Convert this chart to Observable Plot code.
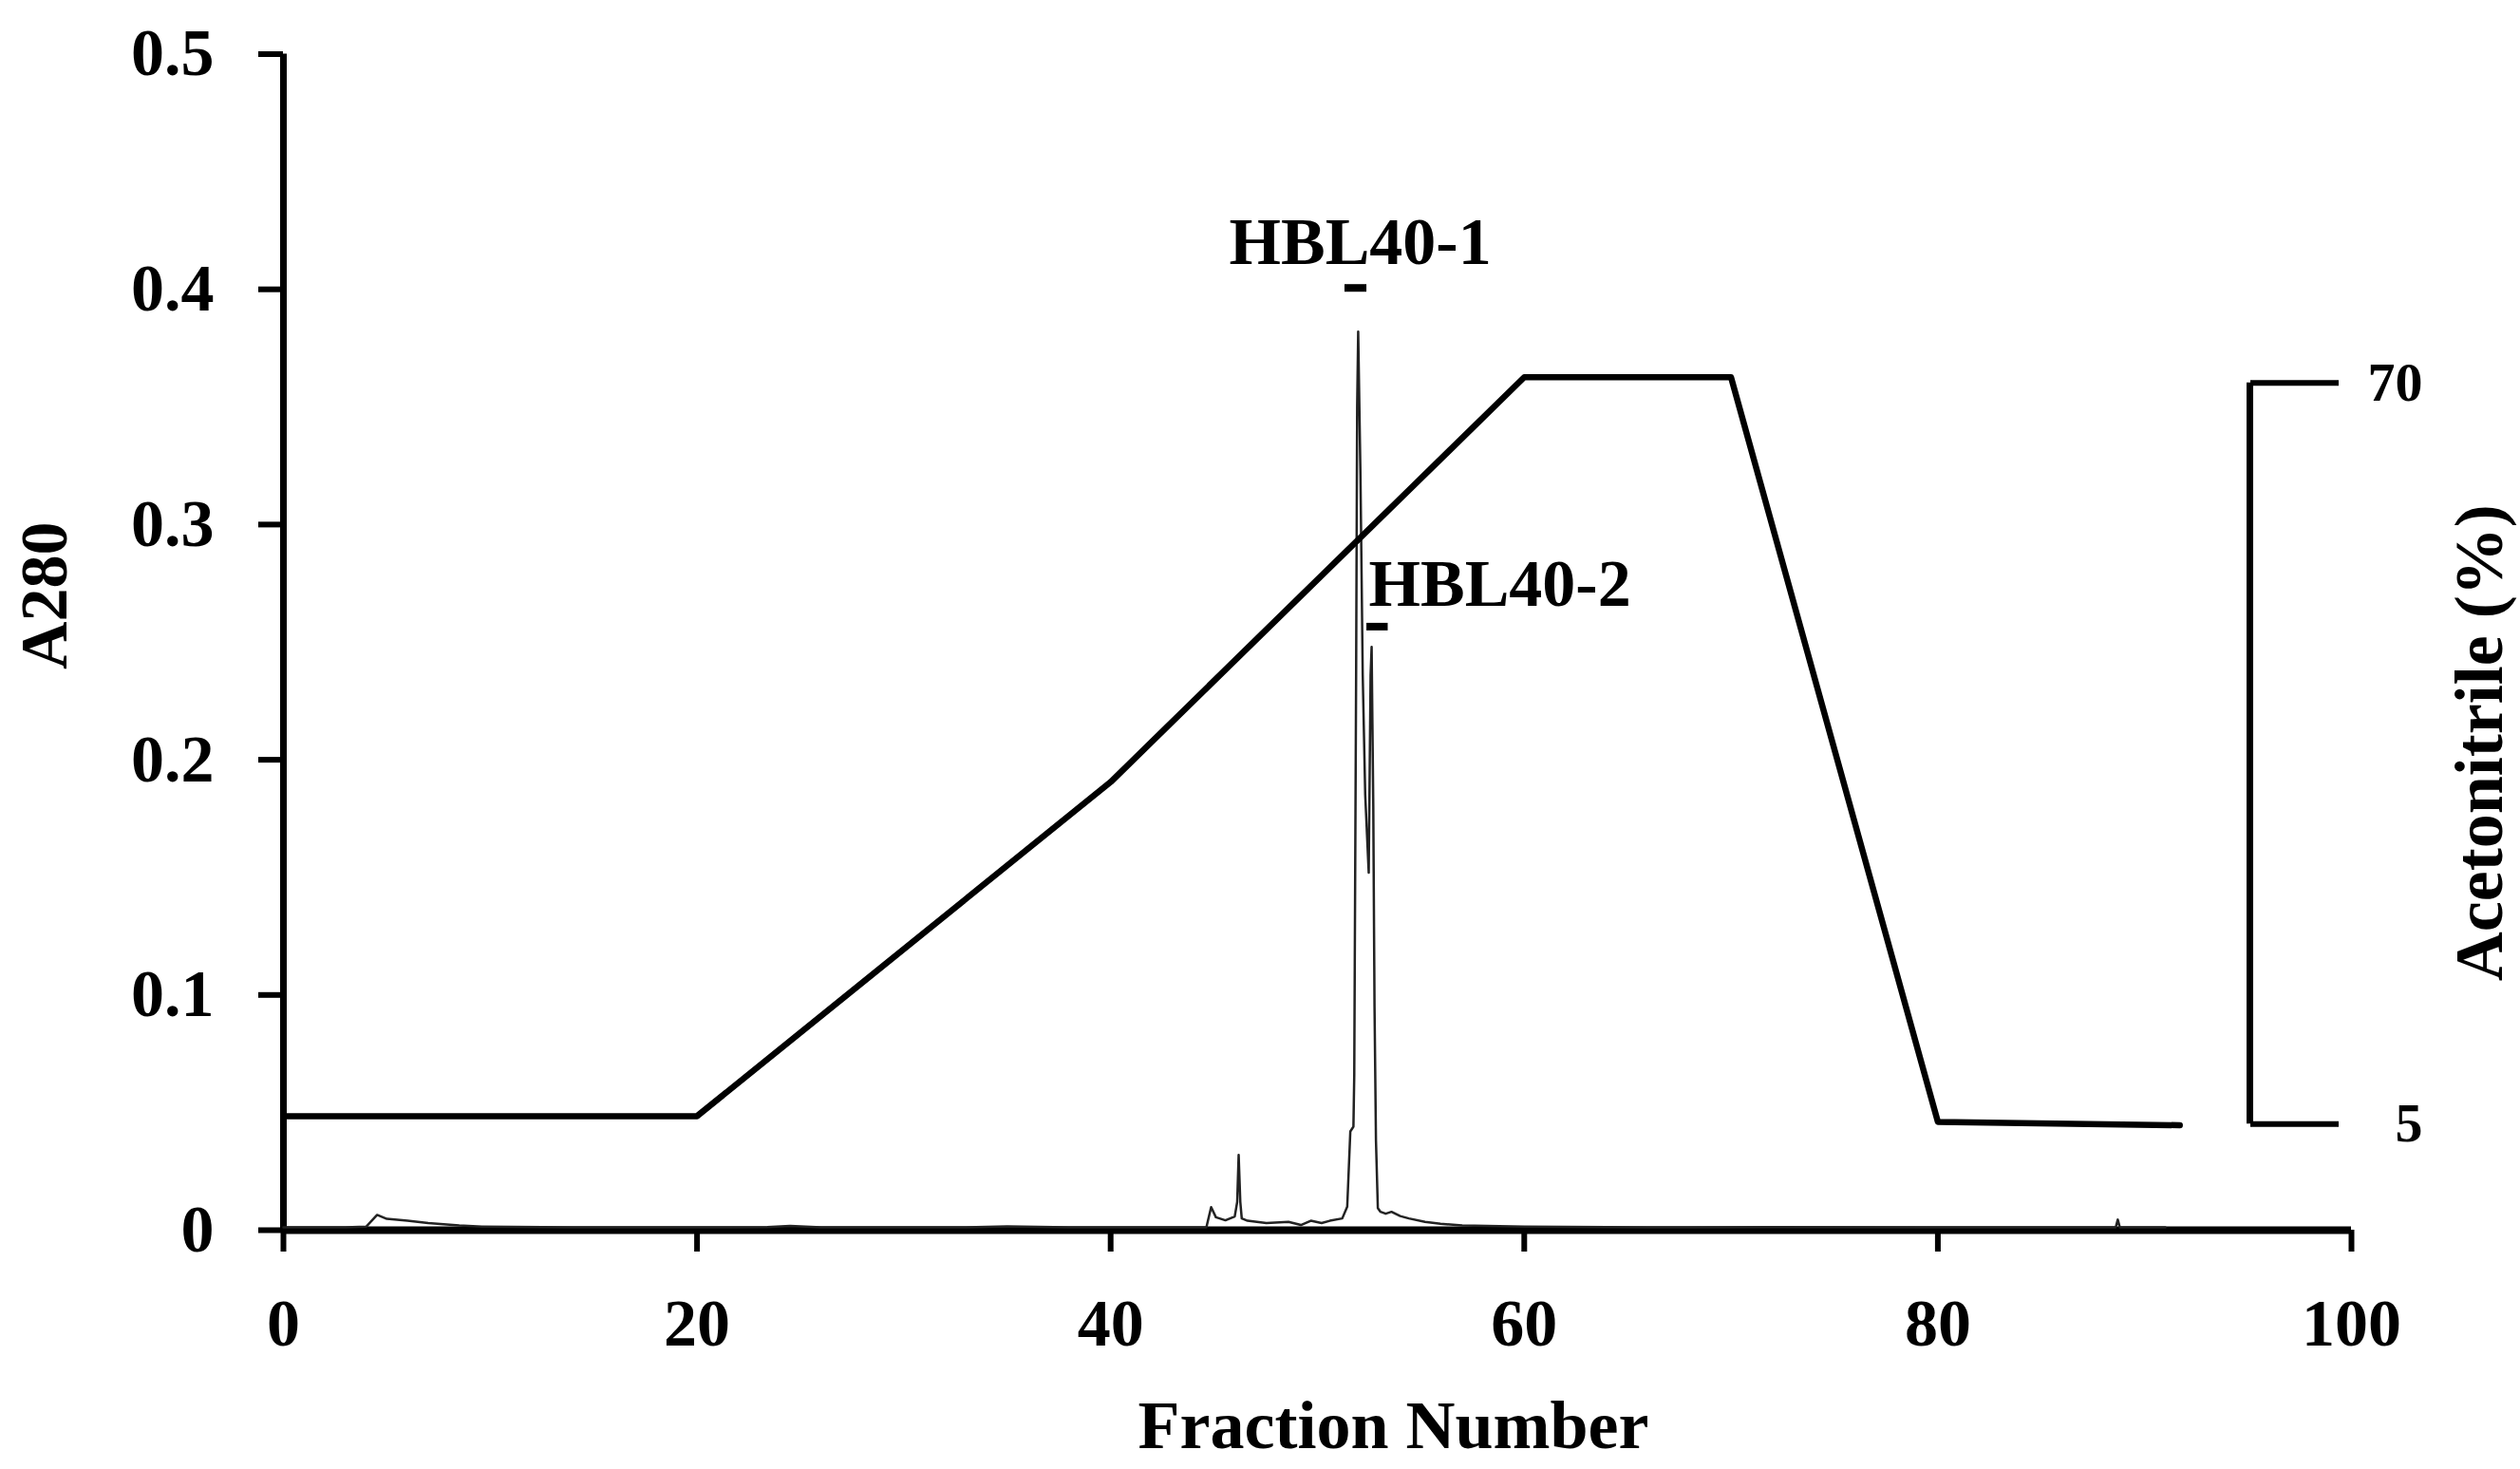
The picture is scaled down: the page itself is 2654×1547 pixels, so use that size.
<!DOCTYPE html>
<html><head><meta charset="utf-8">
<script src="https://cdn.jsdelivr.net/npm/d3@7"></script>
<script src="https://cdn.jsdelivr.net/npm/@observablehq/plot@0.6"></script>
<style>html,body{margin:0;padding:0;background:#fff;} svg{display:block}</style>
</head><body><div id="chart"></div>
<script>
// Chromatogram (A280 vs fraction number)
const fraction = [0, 3, 4.0, 4.53, 5.0, 6.0, 7.0, 8.5, 9.6, 14, 20, 23.4, 24.5, 26, 33, 35, 38, 44.2, 44.63, 44.86,
  45.09, 45.55, 46.0, 46.12, 46.19, 46.27, 46.34, 46.62, 47.53, 48.6, 49.2, 49.68, 50.2, 50.6, 51.2, 51.44, 51.59, 51.74,
  51.78, 51.87, 51.92, 51.97, 52.08, 52.19, 52.31, 52.48, 52.57, 52.62, 52.7, 52.76, 52.83, 52.92, 53.05, 53.3, 53.58,
  54.0, 54.42, 55.2, 55.95, 57.0, 60, 66, 72, 80, 86, 88.6, 88.7, 88.8, 91];
const a280 = [0.0012, 0.0012, 0.0015, 0.0065, 0.0048, 0.004, 0.003, 0.002, 0.0015, 0.0012, 0.0012, 0.0013, 0.0018, 0.0012, 0.0012, 0.0016, 0.0012, 0.0012, 0.0012, 0.0098,
  0.0055, 0.0042, 0.0058, 0.012, 0.032, 0.012, 0.005, 0.004, 0.003, 0.0035, 0.0022, 0.004, 0.003, 0.004, 0.005, 0.010, 0.042, 0.044,
  0.066, 0.236, 0.35, 0.382, 0.321, 0.236, 0.185, 0.152, 0.236, 0.248, 0.18, 0.095, 0.038, 0.0094, 0.0078, 0.007, 0.0078,
  0.006, 0.005, 0.0035, 0.0027, 0.002, 0.0015, 0.0012, 0.0013, 0.0012, 0.0012, 0.0012, 0.0045, 0.0012, 0.0012];

// Acetonitrile gradient (%)
const gradientFraction = [0, 20, 40, 60, 70, 80, 91.7];
const gradientPct = [5.7, 5.7, 35, 70.5, 70.5, 5.2, 4.9];

// Axes
const xTicks = [0, 20, 40, 60, 80, 100];
const yTicks = [0, 0.1, 0.2, 0.3, 0.4, 0.5];
const pctTicks = [5, 70];
const pctAxisA = [0.0451, 0.3602]; // A280 heights at which 5 % and 70 % sit on the right bracket

// Peak annotations
const peakNames = ["HBL40-1", "HBL40-2"];
const peakLabelX = [52.07, 52.48];
const peakLabelA = [0.4108, 0.2654];
const peakBarX1 = [51.33, 52.39];
const peakBarX2 = [52.39, 53.42];
const peakBarA = [0.4006, 0.2566];

const toA = p => pctAxisA[0] + (p - pctTicks[0]) * (pctAxisA[1] - pctAxisA[0]) / (pctTicks[1] - pctTicks[0]);

const trace = fraction.map((f, i) => ({f, a: a280[i]}));
const gradient = gradientFraction.map((f, i) => ({f, a: toA(gradientPct[i])}));
const labels = peakNames.map((name, i) => ({name, x: peakLabelX[i], a: peakLabelA[i], x1: peakBarX1[i], x2: peakBarX2[i], ab: peakBarA[i]}));

const FONT = '"Liberation Serif", "Times New Roman", serif';
const T = {fontWeight: "bold", fontFamily: FONT, fill: "#000"};

const chart = Plot.plot({
  width: 2654,
  height: 1547,
  marginLeft: 298,
  marginRight: 178,
  marginTop: 56.5,
  marginBottom: 252,
  style: {fontFamily: FONT, fontWeight: "bold", background: "#fff", color: "#000"},
  x: {domain: [0, 100]},
  y: {domain: [0, 0.5]},
  marks: [
    Plot.axisX(xTicks, {tickSize: 23, tickPadding: 49, strokeWidth: 6, fontSize: 70, fontWeight: "bold", fontFamily: FONT, label: null, tickFormat: d => String(d)}),
    Plot.axisY(yTicks, {anchor: "left", tickSize: 26, tickPadding: 47, strokeWidth: 6, fontSize: 70, fontWeight: "bold", fontFamily: FONT, label: null, tickFormat: d => d === 0 ? "0" : d.toFixed(1)}),
    Plot.axisY(pctAxisA, {anchor: "right", dx: -107, tickSize: 93, tickPadding: 89, textAnchor: "end", strokeWidth: 6, fontSize: 58, fontWeight: "bold", fontFamily: FONT, label: null, tickFormat: d => String(pctTicks[pctAxisA.indexOf(d)])}),
    Plot.ruleX([100], {y1: pctAxisA[0], y2: pctAxisA[1], dx: -107, strokeWidth: 7, stroke: "#000"}),
    Plot.ruleY([0], {strokeWidth: 8, stroke: "#000"}),
    Plot.ruleX([0], {y1: 0, y2: 0.5, strokeWidth: 7, stroke: "#000"}),
    Plot.line(trace, {x: "f", y: "a", stroke: "#222", strokeWidth: 2.5}),
    Plot.line(gradient, {x: "f", y: "a", stroke: "#000", strokeWidth: 6.5}),
    Plot.ruleY(labels, {x1: "x1", x2: "x2", y: "ab", strokeWidth: 8, stroke: "#000"}),
    Plot.text(labels.slice(0, 1), {x: "x", y: "a", text: "name", textAnchor: "middle", lineAnchor: "bottom", fontSize: 70, ...T}),
    Plot.text(labels.slice(1), {x: "x", y: "a", text: "name", textAnchor: "start", lineAnchor: "bottom", fontSize: 70, ...T}),
    Plot.text(["A280"], {frameAnchor: "left", text: d => d, rotate: -90, textAnchor: "middle", lineAnchor: "middle", dx: -251, dy: -49, fontSize: 70, ...T}),
    Plot.text(["Acetonitrile (%)"], {frameAnchor: "right", text: d => d, rotate: -90, textAnchor: "middle", lineAnchor: "middle", dx: 135, dy: 106, fontSize: 72, ...T}),
    Plot.text(["Fraction Number"], {frameAnchor: "bottom", text: d => d, textAnchor: "middle", lineAnchor: "middle", dx: 80, dy: 206, fontSize: 72, ...T})
  ]
});
document.getElementById("chart").appendChild(chart);
</script>
</body></html>
